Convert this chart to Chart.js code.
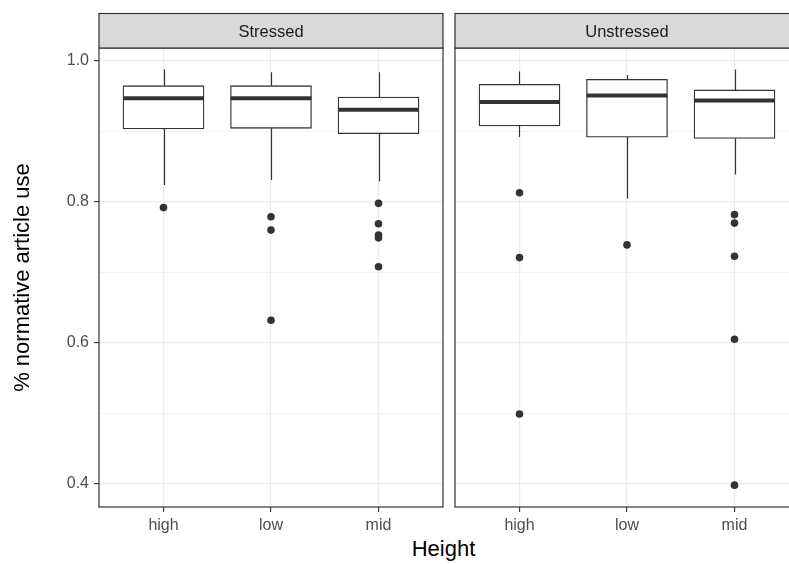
<!DOCTYPE html>
<html>
<head>
<meta charset="utf-8">
<script src="https://cdn.jsdelivr.net/npm/chart.js@4.4.1/dist/chart.umd.min.js"></script>
<style>
  body { margin: 0; background: #fff; }
  #wrap { position: relative; width: 789px; height: 564px; overflow: hidden; background: #fff; }
  #left { position: absolute; left: 0; top: 0; }
  #right { position: absolute; left: 449px; top: 0; }
  #xtitle {
    position: absolute; left: 0; width: 887px; top: 536px; text-align: center;
    font: 22px "Liberation Sans", Arial, sans-serif; line-height: 25px; color: #000;
  }
</style>
</head>
<body>
<div id="wrap">
  <div id="left" style="width:449px;height:535px"><canvas id="chartLeft"></canvas></div>
  <div id="right" style="width:360px;height:535px"><canvas id="chartRight"></canvas></div>
  <div id="xtitle">Height</div>
</div>
<script>
// categories and panels
const categories = ["high", "low", "mid"];
const panelNames = ["Stressed", "Unstressed"];
const yMajorTicks = [0.4, 0.6, 0.8, 1.0];
const yMinorTicks = [0.5, 0.7, 0.9];

// Stressed panel
const stressedLower = [0.824, 0.831, 0.829];
const stressedQ1 = [0.9035, 0.9045, 0.897];
const stressedMedian = [0.947, 0.947, 0.931];
const stressedQ3 = [0.965, 0.965, 0.949];
const stressedUpper = [0.988, 0.984, 0.984];
const stressedOutliers = [
  [0.792],
  [0.779, 0.760, 0.632],
  [0.798, 0.769, 0.753, 0.749, 0.708]
];

// Unstressed panel
const unstressedLower = [0.892, 0.805, 0.839];
const unstressedQ1 = [0.908, 0.892, 0.890];
const unstressedMedian = [0.942, 0.951, 0.944];
const unstressedQ3 = [0.967, 0.974, 0.959];
const unstressedUpper = [0.985, 0.980, 0.988];
const unstressedOutliers = [
  [0.813, 0.721, 0.499],
  [0.739],
  [0.782, 0.770, 0.723, 0.605, 0.398]
];

const FONT = '"Liberation Sans", Arial, sans-serif';
const DARK = "#333333";

// whiskers, medians, panel border and strip
const boxParts = {
  id: "boxParts",
  beforeDatasetsDraw(chart, args, opts) {
    const x = chart.scales.x, y = chart.scales.y, ctx = chart.ctx;
    ctx.save();
    ctx.strokeStyle = DARK;
    ctx.lineWidth = 1.2;
    categories.forEach((c, i) => {
      const px = Math.round(x.getPixelForValue(i + 1)) + 0.5;
      ctx.beginPath();
      ctx.moveTo(px, y.getPixelForValue(opts.q3[i]));
      ctx.lineTo(px, y.getPixelForValue(opts.upper[i]));
      ctx.moveTo(px, y.getPixelForValue(opts.q1[i]));
      ctx.lineTo(px, y.getPixelForValue(opts.lower[i]));
      ctx.stroke();
    });
    ctx.restore();
  },
  afterDatasetsDraw(chart, args, opts) {
    const x = chart.scales.x, y = chart.scales.y, ctx = chart.ctx;
    ctx.save();
    ctx.strokeStyle = DARK;
    ctx.lineWidth = 4;
    categories.forEach((c, i) => {
      const py = y.getPixelForValue(opts.median[i]);
      ctx.beginPath();
      ctx.moveTo(x.getPixelForValue(i + 1 - 0.375), py);
      ctx.lineTo(x.getPixelForValue(i + 1 + 0.375), py);
      ctx.stroke();
    });
    ctx.restore();
  },
  afterDraw(chart, args, opts) {
    const a = chart.chartArea, ctx = chart.ctx;
    ctx.save();
    ctx.strokeStyle = DARK;
    ctx.lineWidth = 1.2;
    ctx.strokeRect(a.left, a.top, a.right - a.left, a.bottom - a.top);
    // strip
    ctx.fillStyle = "#D9D9D9";
    ctx.fillRect(a.left, 13.5, a.right - a.left, a.top - 13.5);
    ctx.strokeRect(a.left, 13.5, a.right - a.left, a.top - 13.5);
    ctx.fillStyle = "#1A1A1A";
    ctx.font = "16.5px " + FONT;
    ctx.textAlign = "center";
    ctx.textBaseline = "middle";
    ctx.fillText(opts.label, (a.left + a.right) / 2, (13.5 + a.top) / 2 + 1.5);
    ctx.restore();
  }
};

function makePanel(canvasId, name, lower, q1, median, q3, upper, outliers, showY) {
  const boxes = categories.map((c, i) => ({ x: i + 1, y: [q1[i], q3[i]] }));
  const points = outliers.flatMap((arr, i) => arr.map(v => ({ x: i + 1, y: v })));
  const allTicks = yMajorTicks.concat(yMinorTicks).sort((a, b) => a - b);
  const isMajor = v => yMajorTicks.some(m => Math.abs(m - v) < 1e-9);

  return new Chart(document.getElementById(canvasId), {
    type: "bar",
    data: {
      datasets: [
        {
          type: "bar",
          data: boxes,
          backgroundColor: "#ffffff",
          borderColor: DARK,
          borderWidth: 1.3,
          borderSkipped: false,
          barThickness: 81
        },
        {
          type: "scatter",
          data: points,
          backgroundColor: DARK,
          borderWidth: 0,
          pointRadius: 3.8
        }
      ]
    },
    options: {
      responsive: true,
      maintainAspectRatio: false,
      animation: false,
      layout: showY ? { padding: { top: 48, right: 6, left: 0, bottom: 0 } }
                    : { padding: { top: 48, right: 10, left: 6, bottom: 0 } },
      plugins: {
        legend: { display: false },
        tooltip: { enabled: false },
        boxParts: { label: name, lower, q1, median, q3, upper }
      },
      scales: {
        x: {
          type: "linear",
          min: 0.4,
          max: 3.6,
          offset: false,
          afterBuildTicks: s => { s.ticks = categories.map((c, i) => ({ value: i + 1 })); },
          afterFit: s => { s.height = 28; },
          border: { display: false },
          grid: {
            offset: false,
            color: "#EBEBEB", lineWidth: 1.2,
            tickLength: 5, tickColor: DARK, tickWidth: 1.1
          },
          ticks: {
            padding: 4,
            color: "#4D4D4D",
            font: { family: FONT, size: 16 },
            callback: v => categories[Math.round(v) - 1]
          }
        },
        y: {
          type: "linear",
          min: 0.367,
          max: 1.0185,
          afterBuildTicks: s => { s.ticks = allTicks.map(v => ({ value: v })); },
          afterFit: s => { s.width = showY ? 99 : 0; },
          border: { display: false },
          grid: {
            color: "#EBEBEB",
            lineWidth: c => (c.tick && isMajor(c.tick.value)) ? 1.2 : 0.6,
            drawTicks: showY,
            tickLength: 5,
            tickWidth: 1.1,
            tickColor: c => (c.tick && isMajor(c.tick.value)) ? DARK : "rgba(0,0,0,0)"
          },
          ticks: {
            display: showY,
            padding: 5,
            color: "#4D4D4D",
            font: { family: FONT, size: 16 },
            callback: v => isMajor(v) ? v.toFixed(1) : ""
          },
          title: {
            display: showY,
            text: "% normative article use",
            color: "#000000",
            font: { family: FONT, size: 22 },
            padding: { top: 10, bottom: 0 }
          }
        }
      }
    },
    plugins: [boxParts]
  });
}

makePanel("chartLeft", panelNames[0], stressedLower, stressedQ1, stressedMedian,
  stressedQ3, stressedUpper, stressedOutliers, true);
makePanel("chartRight", panelNames[1], unstressedLower, unstressedQ1, unstressedMedian,
  unstressedQ3, unstressedUpper, unstressedOutliers, false);
</script>
</body>
</html>
